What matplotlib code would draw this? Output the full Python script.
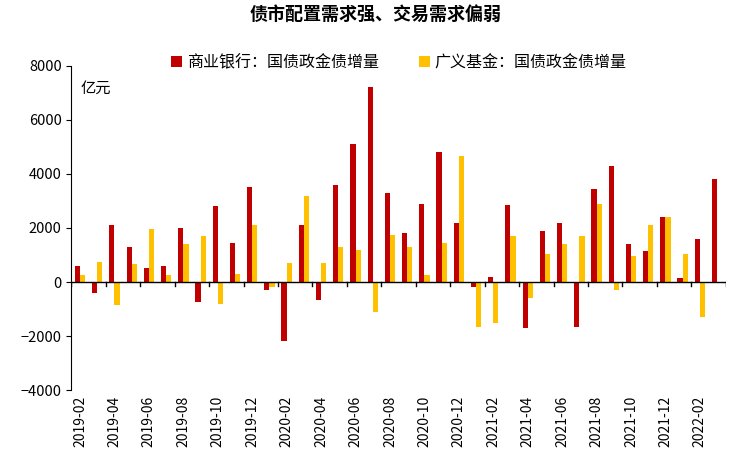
import matplotlib.pyplot as plt
import numpy as np

plt.rcParams['font.family'] = ['Noto Sans CJK SC', 'DejaVu Sans']

months = ['2019-02', '2019-03', '2019-04', '2019-05', '2019-06', '2019-07', '2019-08', '2019-09',
          '2019-10', '2019-11', '2019-12', '2020-01', '2020-02', '2020-03', '2020-04', '2020-05',
          '2020-06', '2020-07', '2020-08', '2020-09', '2020-10', '2020-11', '2020-12', '2021-01',
          '2021-02', '2021-03', '2021-04', '2021-05', '2021-06', '2021-07', '2021-08', '2021-09',
          '2021-10', '2021-11', '2021-12', '2022-01', '2022-02', '2022-03']
bank = [600, -400, 2100, 1300, 500, 600, 2000, -750, 2800, 1450, 3500, -300, -2200, 2100, -650, 3600,
        5100, 7200, 3300, 1800, 2900, 4800, 2200, -200, 200, 2850, -1700, 1900, 2200, -1650, 3450, 4300,
        1400, 1150, 2400, 130, 1600, 3800]
fund = [250, 750, -850, 650, 1950, 250, 1400, 1700, -800, 300, 2100, -200, 700, 3200, 700, 1300,
        1200, -1100, 1750, 1300, 250, 1450, 4650, -1650, -1500, 1700, -600, 1050, 1400, 1700, 2900, -300,
        950, 2100, 2400, 1050, -1300, -50]

red = '#C00000'
yellow = '#FFC000'

fig = plt.figure(figsize=(7.52, 4.70), dpi=100)
ax = fig.add_axes([0.095, 0.17, 0.87, 0.69])
x = np.arange(len(months))
w = 0.3
ax.bar(x - w / 2, bank, w, color=red, label='商业银行：国债政金债增量')
ax.bar(x + w / 2, fund, w, color=yellow, label='广义基金：国债政金债增量')

ax.set_ylim(-4000, 8000)
ax.set_yticks(range(-4000, 8001, 2000))
ax.set_xlim(-0.5, len(months) - 0.5)
ax.set_xticks(x[::2])
ax.set_xticklabels(months[::2], fontsize=10)
plt.setp(ax.get_xticklabels(), rotation=90)
ax.tick_params(axis='x', length=0, pad=4)
ax.tick_params(axis='y', labelsize=10.5)
for s in ['top', 'right', 'bottom']:
    ax.spines[s].set_visible(False)
ax.axhline(0, color='black', lw=1)
# group ticks on the zero line
for xt in np.arange(-0.5, len(months), 2):
    ax.plot([xt, xt], [0, -150], color='black', lw=1)
ax.text(0.0, 7500, '亿元', fontsize=11, va='top')
ax.legend(loc='upper center', bbox_to_anchor=(0.5, 1.08), ncol=2, frameon=False,
          fontsize=11.5, handlelength=0.7, handleheight=0.7, columnspacing=2.5, handletextpad=0.3)
fig.suptitle('债市配置需求强、交易需求偏弱', fontsize=13, fontweight='bold', y=0.99)
fig.savefig('out.png', dpi=100)
